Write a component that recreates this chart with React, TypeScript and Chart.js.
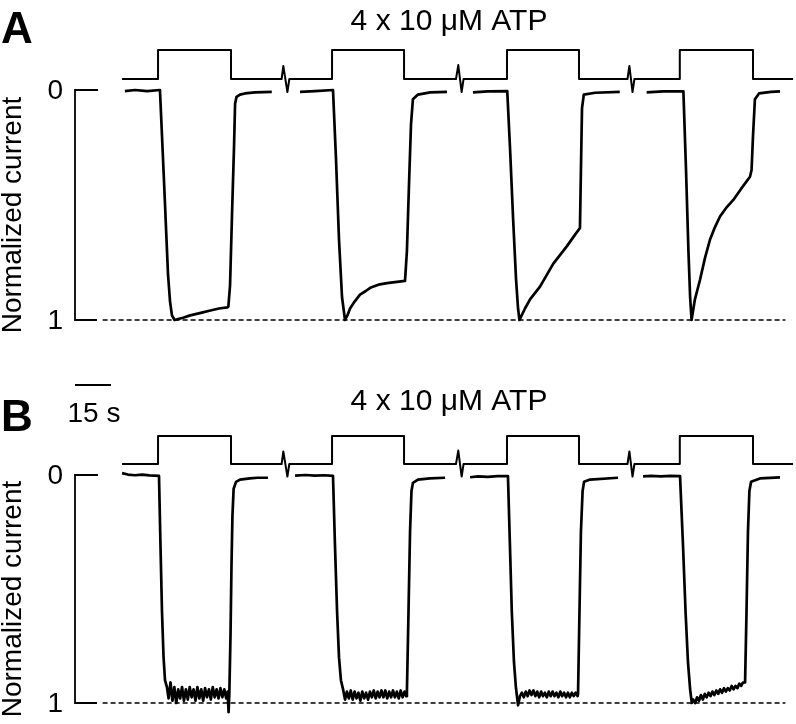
import React, { useEffect, useRef } from "react";
import { Chart, registerables } from "chart.js";
Chart.register(...registerables);

// ---------- text ----------
const TITLE = "4 x 10 \u03BCM ATP";
const Y_TITLE = "Normalized current";
const Y_TICK_VALUES = [0, 1];
const Y_TICK_LABELS = ["0", "1"];
const SCALE_BAR_SECONDS = 15;
const SCALE_BAR_LABEL = "15 s";

// ---------- ATP application (step) trace, display seconds / on-off level ----------
const STEP_TIME = [19.6, 34.6, 34.6, 65, 65, 86.1, 86.8, 88.5, 89.3, 107.1, 107.1, 137.1, 137.1, 158.75, 159.7, 161.1, 161.9, 180, 180, 210, 210, 230.2, 231.0, 232.3, 233.1, 252, 252, 282.5, 282.5, 299.2];
const STEP_LEVEL = [0, 0, 1, 1, 0, 0, 0.45, -0.45, 0, 0, 1, 1, 0, 0, 0.48, -0.45, 0, 0, 1, 1, 0, 0, 0.45, -0.45, 0, 0, 1, 1, 0, 0];

// ---------- Panel A current traces ----------
const A1_TIME = [20.8, 25, 30, 35.4, 37.1, 38.75, 39.6, 40.4, 41.5, 45, 48, 52, 56, 60, 63.5, 63.9, 64.6, 65.4, 66.25, 66.7, 67.3, 68.75, 70.8, 75, 82];
const A1_CURRENT = [0.005, 0.0, 0.005, 0.0, 0.4, 0.8, 0.92, 0.98, 1.0, 0.99, 0.98, 0.97, 0.96, 0.95, 0.945, 0.942, 0.85, 0.55, 0.25, 0.06, 0.03, 0.02, 0.015, 0.01, 0.008];

const A2_TIME = [93.75, 100, 107.5, 108.75, 110, 111.25, 112.5, 113.5, 114.6, 116.5, 118.75, 121, 123, 127, 130, 133.3, 137.5, 138.3, 139.2, 140, 140.8, 142.9, 148, 155];
const A2_CURRENT = [0.008, 0.005, 0.0, 0.3, 0.65, 0.9, 1.0, 0.98, 0.95, 0.92, 0.89, 0.875, 0.86, 0.845, 0.84, 0.835, 0.83, 0.7, 0.4, 0.15, 0.04, 0.02, 0.01, 0.008];

const A3_TIME = [165.8, 172, 180.1, 181.25, 182.5, 183.75, 184.6, 185.2, 187.5, 189.6, 193.75, 199.3, 204.9, 208.3, 210.4, 210.8, 211.25, 212, 216.7, 227];
const A3_CURRENT = [0.01, 0.006, 0.005, 0.25, 0.55, 0.82, 0.95, 1.0, 0.95, 0.91, 0.855, 0.755, 0.68, 0.63, 0.6, 0.35, 0.08, 0.02, 0.012, 0.008];

const A4_TIME = [238.2, 245, 253.5, 254.6, 255.6, 256.3, 256.9, 258.3, 260.4, 262.5, 264.6, 266.7, 268.75, 271.5, 274.3, 277.5, 281.25, 281.9, 282.5, 283.3, 285, 290, 293.75];
const A4_CURRENT = [0.01, 0.006, 0.006, 0.35, 0.7, 0.9, 1.0, 0.91, 0.826, 0.73, 0.65, 0.595, 0.55, 0.51, 0.478, 0.43, 0.377, 0.348, 0.2, 0.04, 0.015, 0.008, 0.006];

// ---------- Panel B current traces ----------
const B1_TIME = [19.6, 22, 25, 28, 31, 35, 35.6, 36.25, 36.9, 37.5, 38.3, 39.0, 39.8, 40.6, 41.4, 42.2, 43.0, 43.8, 44.6, 45.4, 46.2, 47.0, 47.8, 48.6, 49.4, 50.2, 51.0, 51.8, 52.6, 53.4, 54.2, 55.0, 55.8, 56.6, 57.4, 58.2, 59.0, 59.8, 60.6, 61.4, 62.2, 63.0, 63.6, 64.0, 64.3, 64.8, 65.2, 65.6, 66.1, 67.1, 68.75, 72.9, 76, 80.4];
const B1_CURRENT = [-0.008, -0.002, 0.001, -0.002, 0.002, 0.004, 0.3, 0.6, 0.8, 0.9, 0.93, 0.98, 0.91, 0.99, 0.93, 1.0, 0.94, 0.98, 0.93, 0.99, 0.94, 0.985, 0.93, 0.975, 0.94, 0.99, 0.93, 0.98, 0.94, 0.99, 0.935, 0.975, 0.94, 0.985, 0.93, 0.975, 0.94, 0.98, 0.935, 0.975, 0.94, 0.98, 0.95, 1.04, 0.96, 0.7, 0.4, 0.18, 0.06, 0.03, 0.02, 0.015, 0.012, 0.012];

const B2_TIME = [91.7, 96, 100, 104, 107.5, 108.3, 109.2, 110, 110.8, 111.7, 112.5, 113.3, 114.1, 114.9, 115.7, 116.5, 117.3, 118.1, 118.9, 119.7, 120.5, 121.3, 122.1, 122.9, 123.7, 124.5, 125.3, 126.1, 126.9, 127.7, 128.5, 129.3, 130.1, 130.9, 131.7, 132.5, 133.3, 134.1, 134.9, 135.7, 136.5, 137.3, 138.0, 138.3, 138.96, 139.6, 140.2, 140.8, 142.9, 147.9, 154.2];
const B2_CURRENT = [0.003, 0.0, 0.003, 0.001, 0.004, 0.3, 0.6, 0.8, 0.9, 0.94, 0.985, 0.95, 0.98, 0.945, 0.985, 0.95, 0.98, 0.955, 0.99, 0.95, 0.98, 0.955, 0.985, 0.95, 0.975, 0.945, 0.98, 0.95, 0.975, 0.945, 0.975, 0.945, 0.98, 0.95, 0.975, 0.945, 0.975, 0.95, 0.98, 0.945, 0.975, 0.95, 0.97, 0.95, 0.6, 0.25, 0.07, 0.035, 0.02, 0.015, 0.012];

const B3_TIME = [164.6, 168, 172, 176, 180.4, 181.2, 182, 182.9, 183.7, 184.6, 185.4, 186.2, 187.0, 187.8, 188.6, 189.4, 190.2, 191.0, 191.8, 192.6, 193.4, 194.2, 195.0, 195.8, 196.6, 197.4, 198.2, 199.0, 199.8, 200.6, 201.4, 202.2, 203.0, 203.8, 204.6, 205.4, 206.2, 207.0, 207.8, 208.6, 209.4, 209.6, 210.2, 210.8, 211.5, 212.1, 214.6, 226.25];
const B3_CURRENT = [0.01, 0.006, 0.008, 0.005, 0.005, 0.3, 0.6, 0.82, 0.93, 1.01, 0.97, 0.955, 0.975, 0.95, 0.97, 0.945, 0.965, 0.945, 0.97, 0.95, 0.975, 0.95, 0.97, 0.955, 0.975, 0.95, 0.97, 0.95, 0.97, 0.955, 0.975, 0.95, 0.97, 0.955, 0.975, 0.955, 0.975, 0.955, 0.97, 0.955, 0.97, 0.96, 0.6, 0.25, 0.07, 0.03, 0.02, 0.012];

const B4_TIME = [236.7, 240, 244, 248, 252.1, 253.3, 254.4, 255.4, 256.3, 257, 257.6, 258.4, 259.2, 260, 260.8, 261.6, 262.4, 263.2, 264, 264.8, 265.6, 266.4, 267.2, 268, 268.8, 269.6, 270.4, 271.2, 272, 272.8, 273.6, 274.4, 275.2, 276, 276.8, 277.6, 278.3, 279.2, 279.8, 280.4, 281, 281.7, 285.4, 293.75];
const B4_CURRENT = [0.006, 0.004, 0.006, 0.004, 0.005, 0.3, 0.6, 0.82, 0.94, 1.0, 0.985, 1.0, 0.975, 0.99, 0.965, 0.985, 0.96, 0.975, 0.955, 0.97, 0.95, 0.965, 0.945, 0.96, 0.94, 0.955, 0.935, 0.95, 0.935, 0.945, 0.925, 0.94, 0.925, 0.935, 0.915, 0.925, 0.91, 0.91, 0.6, 0.25, 0.07, 0.03, 0.015, 0.01];

// reference (full response) dashed line extent, display seconds
const REF_LINE_TIME = [11.5, 296];
const REF_LINE_VALUE = [1, 1];

const FONT = '"Liberation Sans", Arial, Helvetica, sans-serif';

type Pt = { x: number; y: number | null };

function joinTraces(traces: [number[], number[]][]): Pt[] {
  const out: Pt[] = [];
  traces.forEach(([t, v], i) => {
    if (i > 0) {
      const prev = out[out.length - 1].x;
      out.push({ x: (prev + t[0]) / 2, y: null });
    }
    t.forEach((tt, j) => out.push({ x: tt, y: v[j] }));
  });
  return out;
}

type Layout = {
  height: number;
  areaTop: number;
  areaBottom: number;
  zeroPx: number;
  onePx: number;
  stepBasePx: number;
  stepHighPx: number;
  titleY: number;
  letterY: number;
  scaleBarY?: number;
  scaleLabelY?: number;
};

function Panel(props: { letter: string; traces: [number[], number[]][]; layout: Layout; top: number }) {
  const ref = useRef<HTMLCanvasElement>(null);
  useEffect(() => {
    const L = props.layout;
    const span = L.onePx - L.zeroPx;
    const yMin = (L.areaTop - L.zeroPx) / span;
    const yMax = (L.areaBottom - L.zeroPx) / span;
    const sUnit = L.stepBasePx - L.stepHighPx;
    const y2Max = (L.stepBasePx - L.areaTop) / sUnit;
    const y2Min = (L.stepBasePx - L.areaBottom) / sUnit;

    const decor = {
      id: "decor",
      afterDatasetsDraw(chart: any) {
        const ctx = chart.ctx as CanvasRenderingContext2D;
        const xs = chart.scales.x;
        const ys = chart.scales.y;
        const ax = xs.getPixelForValue(0);
        const y0 = ys.getPixelForValue(Y_TICK_VALUES[0]);
        const y1 = ys.getPixelForValue(Y_TICK_VALUES[1]);
        ctx.save();
        ctx.strokeStyle = "#000";
        ctx.fillStyle = "#000";
        ctx.lineWidth = 1.8;
        ctx.beginPath();
        ctx.moveTo(ax + 23, y0);
        ctx.lineTo(ax, y0);
        ctx.lineTo(ax, y1);
        ctx.lineTo(ax + 22, y1);
        ctx.stroke();

        ctx.font = `28px ${FONT}`;
        ctx.textAlign = "right";
        ctx.textBaseline = "middle";
        ctx.fillText(Y_TICK_LABELS[0], ax - 12, y0 + 1);
        ctx.fillText(Y_TICK_LABELS[1], ax - 12, y1 + 1);

        ctx.save();
        ctx.translate(13, (y0 + y1) / 2 + 10);
        ctx.rotate(-Math.PI / 2);
        ctx.textAlign = "center";
        ctx.fillText(Y_TITLE, 0, 0);
        ctx.restore();

        ctx.font = `30px ${FONT}`;
        ctx.textAlign = "center";
        ctx.fillText(TITLE, 449, L.titleY);

        ctx.font = `bold 44px ${FONT}`;
        ctx.textAlign = "left";
        ctx.fillText(props.letter, 1, L.letterY);

        if (L.scaleBarY !== undefined) {
          const sx0 = xs.getPixelForValue(0);
          const sx1 = xs.getPixelForValue(SCALE_BAR_SECONDS);
          ctx.lineWidth = 1.8;
          ctx.beginPath();
          ctx.moveTo(sx0, L.scaleBarY);
          ctx.lineTo(sx1, L.scaleBarY);
          ctx.stroke();
          ctx.font = `28px ${FONT}`;
          ctx.textAlign = "center";
          ctx.fillText(SCALE_BAR_LABEL, 94, L.scaleLabelY as number);
        }
        ctx.restore();
      },
    };

    const chart = new Chart(ref.current as HTMLCanvasElement, {
      type: "line",
      data: {
        datasets: [
          {
            data: STEP_TIME.map((t, i) => ({ x: t, y: STEP_LEVEL[i] })),
            yAxisID: "y2",
            borderColor: "#000",
            borderWidth: 2,
          },
          {
            data: joinTraces(props.traces),
            yAxisID: "y",
            borderColor: "#000",
            borderWidth: 2.7,
            spanGaps: false,
          },
          {
            data: REF_LINE_TIME.map((t, i) => ({ x: t, y: REF_LINE_VALUE[i] })),
            yAxisID: "y",
            borderColor: "#000",
            borderWidth: 1.6,
            borderDash: [5, 3],
          },
        ] as any,
      },
      options: {
        responsive: false,
        animation: false,
        events: [],
        layout: { padding: { left: 75, right: 1, top: L.areaTop, bottom: L.height - L.areaBottom } },
        elements: {
          point: { radius: 0, hoverRadius: 0 },
          line: { tension: 0, fill: false, borderJoinStyle: "round", borderCapStyle: "butt" },
        },
        scales: {
          x: { type: "linear", min: 0, max: 300, display: false },
          y: { type: "linear", min: yMin, max: yMax, reverse: true, display: false },
          y2: { type: "linear", min: y2Min, max: y2Max, display: false },
        },
        plugins: { legend: { display: false }, tooltip: { enabled: false } },
      } as any,
      plugins: [decor],
    });
    return () => chart.destroy();
  }, []);
  return (
    <canvas
      ref={ref}
      width={796}
      height={props.layout.height}
      style={{ position: "absolute", left: 0, top: props.top, display: "block" }}
    />
  );
}

const LAYOUT_A: Layout = {
  height: 360,
  areaTop: 40,
  areaBottom: 335,
  zeroPx: 90,
  onePx: 320,
  stepBasePx: 79,
  stepHighPx: 50,
  titleY: 22,
  letterY: 31,
};

const LAYOUT_B: Layout = {
  height: 364,
  areaTop: 65,
  areaBottom: 358,
  zeroPx: 115,
  onePx: 343,
  stepBasePx: 104,
  stepHighPx: 76,
  titleY: 42,
  letterY: 59,
  scaleBarY: 25,
  scaleLabelY: 54,
};

export default function App() {
  useEffect(() => {
    document.body.style.margin = "0";
  }, []);
  return (
    <div style={{ position: "relative", width: 796, height: 724, background: "#fff" }}>
      <Panel
        letter="A"
        top={0}
        layout={LAYOUT_A}
        traces={[
          [A1_TIME, A1_CURRENT],
          [A2_TIME, A2_CURRENT],
          [A3_TIME, A3_CURRENT],
          [A4_TIME, A4_CURRENT],
        ]}
      />
      <Panel
        letter="B"
        top={360}
        layout={LAYOUT_B}
        traces={[
          [B1_TIME, B1_CURRENT],
          [B2_TIME, B2_CURRENT],
          [B3_TIME, B3_CURRENT],
          [B4_TIME, B4_CURRENT],
        ]}
      />
    </div>
  );
}
